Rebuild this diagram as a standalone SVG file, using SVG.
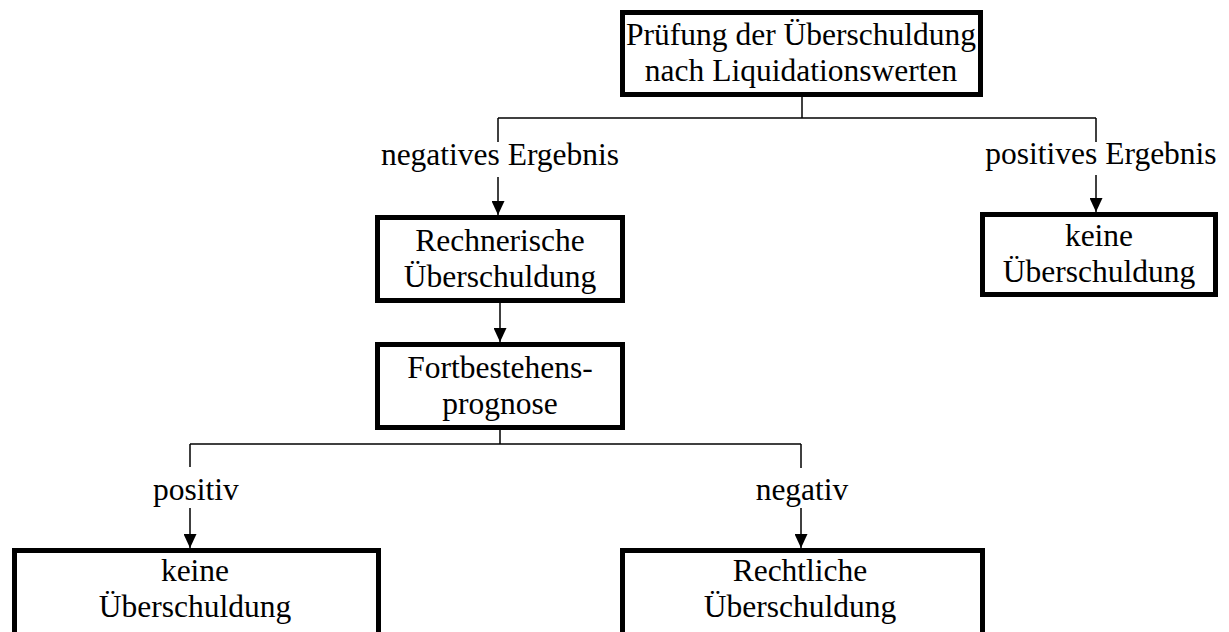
<svg xmlns="http://www.w3.org/2000/svg" width="1229" height="632" viewBox="0 0 1229 632">
<style>
.box{fill:#fff;stroke:#000;stroke-width:5}
.t{font-family:"Liberation Serif","Times New Roman",serif;font-size:31.5px;fill:#000;text-anchor:middle}
.c{fill:none;stroke:#000;stroke-width:1.5}
.a{fill:none;stroke:#000;stroke-width:1.5;marker-end:url(#ah)}
</style>
<defs>
<marker id="ah" markerUnits="userSpaceOnUse" markerWidth="14" markerHeight="13" viewBox="0 0 14 13" refX="14" refY="6.5" orient="auto">
<path d="M0,0 L14,6.5 L0,13 z" fill="#000"/>
</marker>
</defs>
<rect width="1229" height="632" fill="#fff"/>
<g id="connectors">
<path class="c" d="M802,97 V118"/>
<path class="c" d="M498,118 H1096"/>
<path class="c" d="M498,118 V142"/>
<path class="a" d="M498,177 V215"/>
<path class="c" d="M1096,118 V142"/>
<path class="a" d="M1096,175 V212"/>
<path class="a" d="M500,303 V342"/>
<path class="c" d="M500,430 V444"/>
<path class="c" d="M190,444 H801"/>
<path class="c" d="M190,444 V467"/>
<path class="a" d="M190,508 V548"/>
<path class="c" d="M801,444 V468"/>
<path class="a" d="M801,508 V548"/>
<text class="t" x="500" y="165">negatives Ergebnis</text>
<text class="t" x="1101" y="164">positives Ergebnis</text>
<text class="t" x="196" y="500">positiv</text>
<text class="t" x="802" y="500">negativ</text>
</g>
<g id="n-pruefung">
<rect class="box" x="622.5" y="12.5" width="358" height="82"/>
<text class="t" x="801" y="45">Prüfung der Überschuldung</text>
<text class="t" x="801" y="81">nach Liquidationswerten</text>
</g>
<g id="n-rechnerisch">
<rect class="box" x="377.5" y="217.5" width="245" height="83"/>
<text class="t" x="500" y="251">Rechnerische</text>
<text class="t" x="500" y="287">Überschuldung</text>
</g>
<g id="n-keine1">
<rect class="box" x="982.5" y="214.5" width="233" height="80"/>
<text class="t" x="1099" y="246">keine</text>
<text class="t" x="1099" y="282">Überschuldung</text>
</g>
<g id="n-fortbestehen">
<rect class="box" x="377.5" y="344.5" width="245" height="83"/>
<text class="t" x="500" y="378">Fortbestehens-</text>
<text class="t" x="500" y="414">prognose</text>
</g>
<g id="n-keine2">
<rect class="box" x="14.5" y="550.5" width="364" height="100"/>
<text class="t" x="195" y="581">keine</text>
<text class="t" x="195" y="617">Überschuldung</text>
</g>
<g id="n-rechtlich">
<rect class="box" x="622.5" y="550.5" width="360" height="100"/>
<text class="t" x="800" y="581">Rechtliche</text>
<text class="t" x="800" y="617">Überschuldung</text>
</g>
</svg>
